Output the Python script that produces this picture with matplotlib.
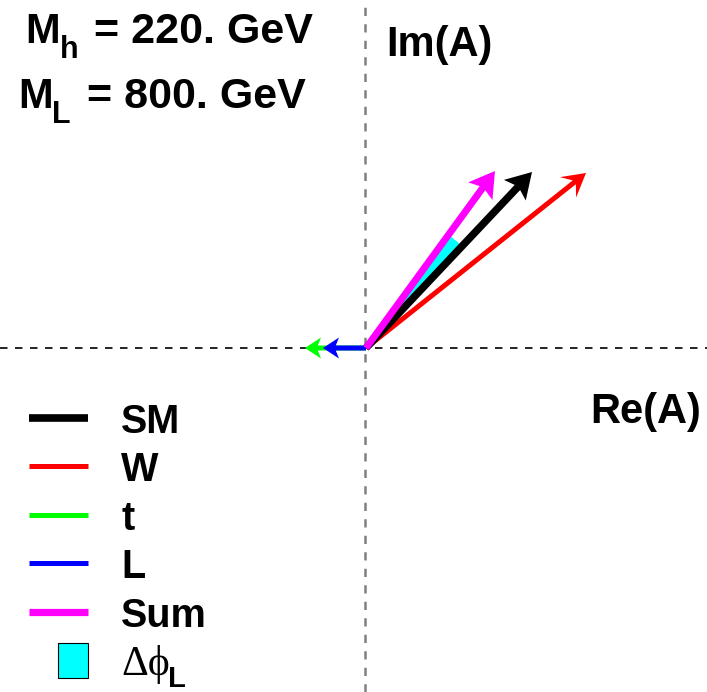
import numpy as np
import matplotlib
matplotlib.use("Agg")
import matplotlib.pyplot as plt
from matplotlib.patches import Wedge, Rectangle
from matplotlib.lines import Line2D

# Amplitude contributions in the complex plane (Re, Im)
names = ["SM", "W", "t", "L", "Sum"]
re_parts = [166.0, 220.0, -61.0, -43.0, 129.0]
im_parts = [176.0, 175.0, 0.0, 0.0, 177.0]
colors = ["black", "red", "#00ff00", "blue", "magenta"]

W, H = 707, 692
fig = plt.figure(figsize=(W / 100, H / 100), dpi=100)
ax = fig.add_axes([0, 0, 1, 1])
ax.set_xlim(-366, W - 366)
ax.set_ylim(-(H - 348), 348)
ax.set_axis_off()

# dashed axes through the origin
ax.axhline(0, color="black", lw=1.2, dashes=(4.5, 4.5), zorder=1)
ax.axvline(-1, color="#808080", lw=1.8, dashes=(3.3, 3.3), zorder=1)

# phase shift wedge between SM and total amplitude
i_sm, i_sum = names.index("SM"), names.index("Sum")
a_sm = np.degrees(np.arctan2(im_parts[i_sm], re_parts[i_sm]))
a_sum = np.degrees(np.arctan2(im_parts[i_sum], re_parts[i_sum]))
ax.add_patch(Wedge((0, 0), 140, a_sm, a_sum, facecolor="cyan", edgecolor="none", zorder=2))

# arrow styles: (shaft width, head width, head length, overhang)
styles = {
    "SM": (7.5, 30, 25, 0.15),
    "W": (5.0, 26, 23, 0.35),
    "t": (5.0, 21, 16, 0.2),
    "L": (5.0, 21, 16, 0.2),
    "Sum": (7.0, 30, 25, 0.15),
}
order = ["W", "SM", "t", "L", "Sum"]
for z, n in enumerate(order):
    i = names.index(n)
    w, hw, hl, ov = styles[n]
    ax.arrow(0, 0, re_parts[i], im_parts[i], width=w, head_width=hw, head_length=hl,
             overhang=ov, length_includes_head=True, color=colors[i], lw=0,
             zorder=3 + z)

def ftxt(px, py, s, **kw):
    fig.text(px / W, 1 - py / H, s, va="baseline", ha="left", **kw)

bold = dict(family="Liberation Sans", fontweight="bold", color="black")

# mass labels with subscripts
ftxt(25, 43, "M", fontsize=30, **bold)
ftxt(60, 58, "h", fontsize=22, **bold)
ftxt(94, 43, "= 220. GeV", fontsize=31, **bold)
ftxt(18, 108, "M", fontsize=30, **bold)
ftxt(52, 123, "L", fontsize=22, **bold)
ftxt(87, 108, "= 800. GeV", fontsize=31, **bold)

ftxt(386, 56, "Im(A)", fontsize=30, **bold)
ftxt(590, 423, "Re(A)", fontsize=30, **bold)

# legend
leg_y = [418, 466, 515, 563, 612]
leg_lw = [5.5, 3.6, 3.6, 3.6, 5.2]
for k, n in enumerate(names):
    y = 1 - leg_y[k] / H
    fig.add_artist(Line2D([29 / W, 88 / W], [y, y], color=colors[k], lw=leg_lw[k],
                          solid_capstyle="butt"))
    ftxt(121, leg_y[k] + 15, n, fontsize=28.5, **bold)

fig.add_artist(Rectangle((58 / W, 1 - 678 / H), 30 / W, 35 / H, facecolor="cyan",
                         edgecolor="black", lw=0.8, transform=fig.transFigure))
ftxt(121, 675, "\u0394\u03d5", fontsize=30, family=["Liberation Serif", "DejaVu Serif"])
ftxt(168, 687, "L", fontsize=21, **bold)

fig.savefig("out.png", dpi=100)
